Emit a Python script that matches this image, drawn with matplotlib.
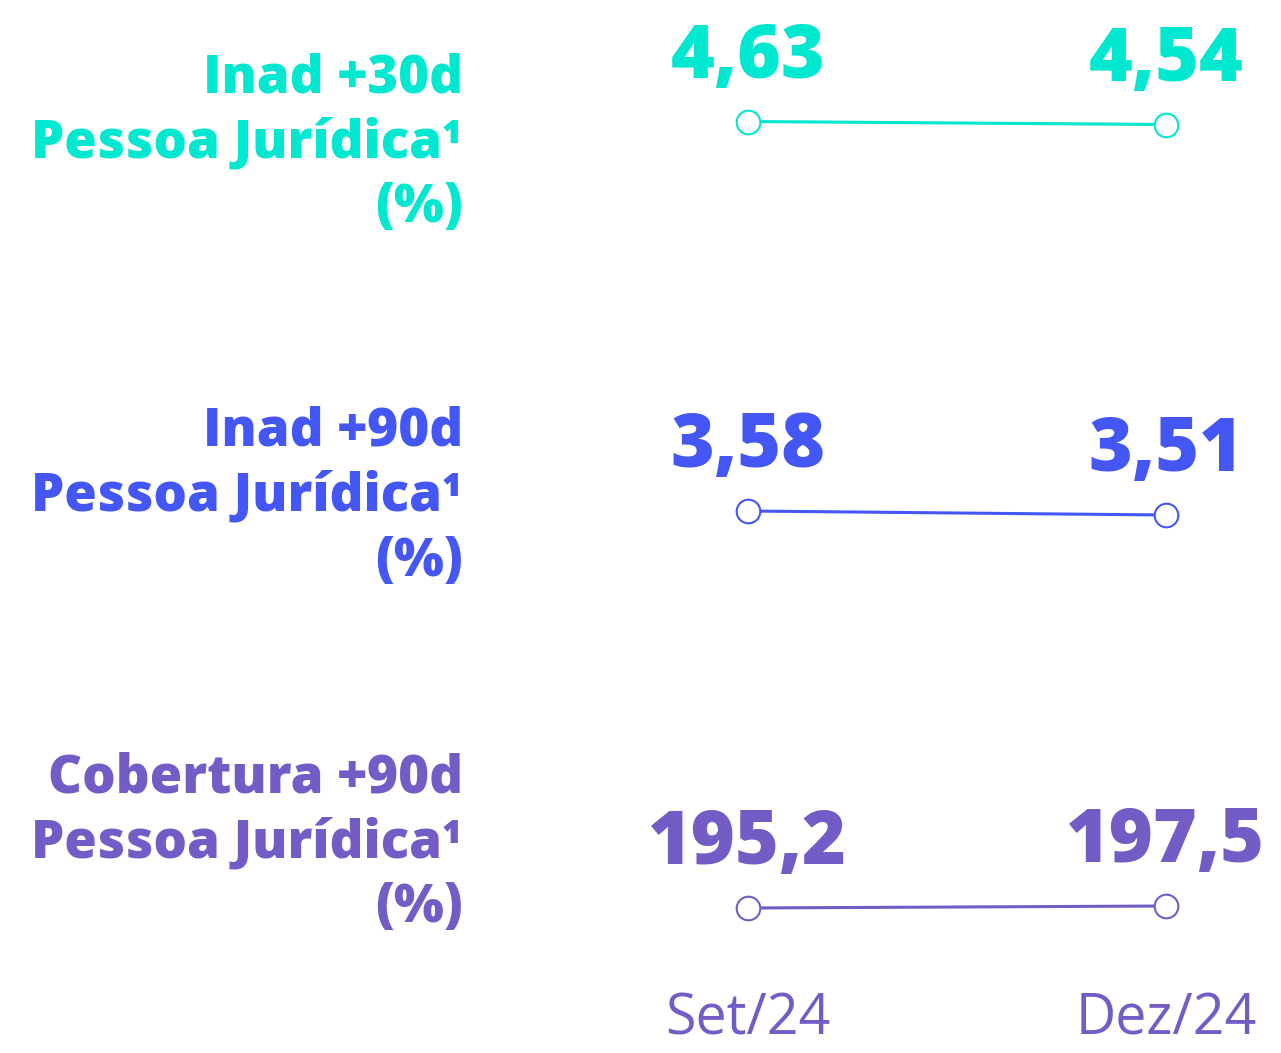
import matplotlib.pyplot as plt

# Data: credit quality indicators, legal entities
periods = ['Set/24', 'Dez/24']
inad30 = [4.63, 4.54]
inad90 = [3.58, 3.51]
cobertura90 = [195.2, 197.5]

row_titles = [
    ['Inad +30d', 'Pessoa Jurídica¹', '(%)'],
    ['Inad +90d', 'Pessoa Jurídica¹', '(%)'],
    ['Cobertura +90d', 'Pessoa Jurídica¹', '(%)'],
]
series = [inad30, inad90, cobertura90]
colors = ['#00E8CF', '#4457F5', '#735CC6']
# vertical span used for each row's y-axis
spans = [3.0, 1.75, 115.0]

W, H = 1281, 1053
fig = plt.figure(figsize=(W / 100, H / 100), dpi=100)
fig.patch.set_facecolor('white')

marker_y = [123, 513, 907]    # row centres, px from top
title_y = [144, 497, 844]

for i, vals in enumerate(series):
    c = colors[i]
    yc = marker_y[i]
    ax = fig.add_axes([640 / W, (H - yc - 50) / H, 635 / W, 100 / H])
    ax.set_xlim(-0.258, 1.261)
    mid = sum(vals) / 2
    ax.set_ylim(mid - spans[i] / 2, mid + spans[i] / 2)
    ax.plot([0, 1], vals, color=c, lw=2.2, marker='o', ms=17,
            mfc='white', mec=c, mew=1.5, zorder=3)
    for x, v in zip([0, 1], vals):
        txt = f'{v:.2f}' if v < 100 else f'{v:.1f}'
        ax.annotate(txt.replace('.', ','),
                    (x, v), xytext=(0, 31.5), textcoords='offset points',
                    ha='center', va='baseline', fontsize=54,
                    fontweight='heavy', family='Open Sans', color=c)
    for s in ax.spines.values():
        s.set_visible(False)
    ax.set_yticks([])
    if i == 2:
        ax.set_xticks([0, 1], periods)
        ax.tick_params(axis='x', length=0, pad=25, labelsize=40,
                       labelcolor=c)
        for lab in ax.get_xticklabels():
            lab.set_family('Open Sans')
    else:
        ax.set_xticks([])

    # left-hand titles
    for j, line in enumerate(row_titles[i]):
        y = title_y[i] + (j - 1) * 65
        fig.text(463 / W, 1 - y / H, line, ha='right', va='center',
                 fontsize=38, fontweight='heavy', family='Open Sans', color=c)

fig.savefig('out.png', dpi=100)
